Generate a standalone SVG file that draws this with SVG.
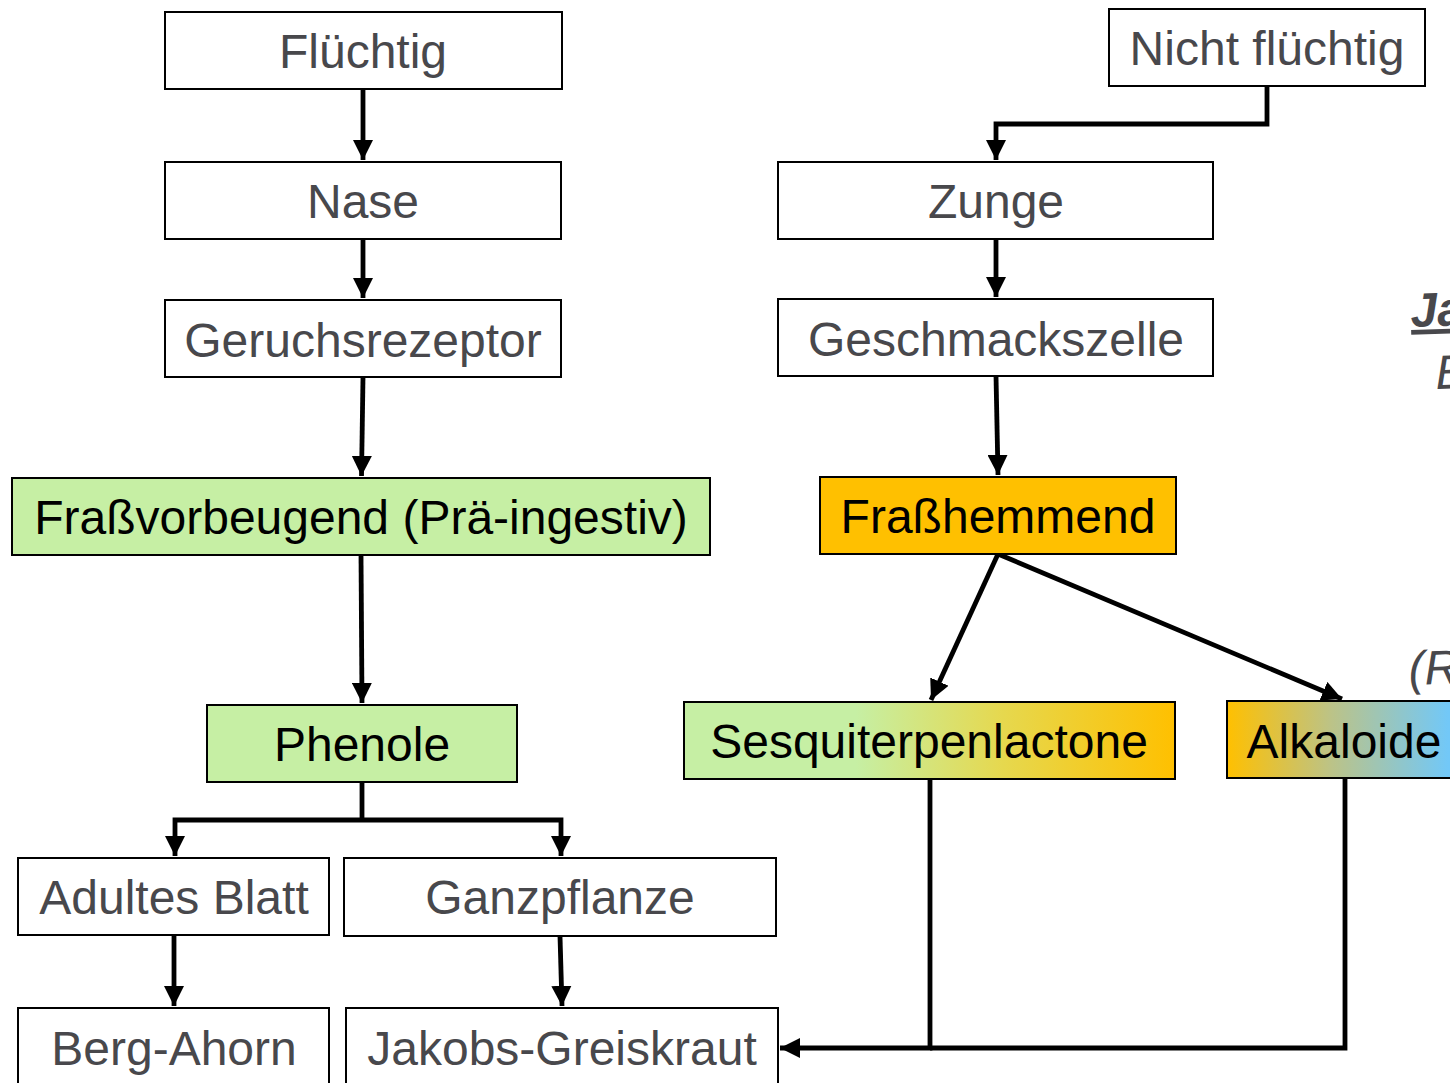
<svg xmlns="http://www.w3.org/2000/svg" width="1450" height="1083" viewBox="0 0 1450 1083">
<defs>
<linearGradient id="gSesq" x1="0" y1="0" x2="1" y2="0">
<stop offset="0" stop-color="#C6EFA4"/>
<stop offset="0.35" stop-color="#C6EFA4"/>
<stop offset="0.65" stop-color="#E6D84E"/>
<stop offset="1" stop-color="#FFC000"/>
</linearGradient>
<linearGradient id="gAlk" x1="0" y1="0" x2="1" y2="0">
<stop offset="0" stop-color="#FFC000"/>
<stop offset="0.4" stop-color="#BCC387"/>
<stop offset="0.85" stop-color="#72C8F8"/>
<stop offset="1" stop-color="#72C8F8"/>
</linearGradient>
<marker id="ah" viewBox="0 0 10 10" refX="10" refY="5" markerWidth="4.2" markerHeight="4.2" orient="auto" markerUnits="strokeWidth">
<path d="M0,0 L10,5 L0,10 Z" fill="#000"/>
</marker>
</defs>
<style>
rect{stroke:#000;stroke-width:2}
.w{fill:#fff}
.g{fill:#C6EFA4}
.o{fill:#FFC000}
text{font-family:"Liberation Sans",Arial,sans-serif;font-size:48px;text-anchor:middle}
.tw{fill:#48484c}
.tb{fill:#000}
.c{fill:none;stroke:#000;stroke-width:4.8}
.a{marker-end:url(#ah)}
.side{fill:#48484c;text-anchor:start;font-style:italic}
</style>
<rect x="0" y="0" width="1450" height="1083" fill="#fff" style="stroke:none"/>
<g id="connectors">
<path class="c a" d="M363,89 V160"/>
<path class="c a" d="M363,239 V298"/>
<path class="c a" d="M363,377 L361.5,476"/>
<path class="c a" d="M361,555 L362,703"/>
<path class="c" d="M362,782 V820"/>
<path class="c a" d="M362,820 H175 V856"/>
<path class="c a" d="M362,820 H561 V856"/>
<path class="c a" d="M174,935 V1006"/>
<path class="c a" d="M560,936 L562,1006"/>
<path class="c a" d="M1267,86 V124 H996 V160"/>
<path class="c a" d="M996,239 V297"/>
<path class="c a" d="M996,376 L998,475"/>
<path class="c a" d="M998,554 L931,700"/>
<path class="c a" d="M998,554 L1342,699"/>
<path class="c a" d="M930,779 V1048 H780"/>
<path class="c" d="M1345,779 V1048 H930"/>
</g>
<g id="n-fluechtig"><rect class="w" x="165" y="12" width="397" height="77"/><text class="tw" x="363" y="68">Flüchtig</text></g>
<g id="n-nase"><rect class="w" x="165" y="162" width="396" height="77"/><text class="tw" x="363" y="218">Nase</text></g>
<g id="n-geruch"><rect class="w" x="165" y="300" width="396" height="77"/><text class="tw" x="363" y="357">Geruchsrezeptor</text></g>
<g id="n-frassvor"><rect class="g" x="12" y="478" width="698" height="77"/><text class="tb" x="361" y="534">Fraßvorbeugend (Prä-ingestiv)</text></g>
<g id="n-phenole"><rect class="g" x="207" y="705" width="310" height="77"/><text class="tb" x="362" y="761">Phenole</text></g>
<g id="n-adult"><rect class="w" x="18" y="858" width="311" height="77"/><text class="tw" x="174" y="914">Adultes Blatt</text></g>
<g id="n-ganz"><rect class="w" x="344" y="858" width="432" height="78"/><text class="tw" x="560" y="914">Ganzpflanze</text></g>
<g id="n-berg"><rect class="w" x="18" y="1008" width="311" height="90"/><text class="tw" x="174" y="1065">Berg-Ahorn</text></g>
<g id="n-jakobs"><rect class="w" x="346" y="1008" width="432" height="90"/><text class="tw" x="562" y="1065">Jakobs-Greiskraut</text></g>
<g id="n-nicht"><rect class="w" x="1109" y="9" width="316" height="77"/><text class="tw" x="1267" y="65">Nicht flüchtig</text></g>
<g id="n-zunge"><rect class="w" x="778" y="162" width="435" height="77"/><text class="tw" x="996" y="218">Zunge</text></g>
<g id="n-geschmack"><rect class="w" x="778" y="299" width="435" height="77"/><text class="tw" x="996" y="356">Geschmackszelle</text></g>
<g id="n-frasshemm"><rect class="o" x="820" y="477" width="356" height="77"/><text class="tb" x="998" y="533">Fraßhemmend</text></g>
<g id="n-sesq"><rect fill="url(#gSesq)" x="684" y="702" width="491" height="77"/><text class="tb" x="929" y="758">Sesquiterpenlactone</text></g>
<g id="n-alk"><rect fill="url(#gAlk)" x="1227" y="701" width="260" height="77"/><text class="tb" x="1344" y="758">Alkaloide</text></g>
<g id="side-text">
<text class="side" x="1411" y="327" font-weight="bold" text-decoration="underline" transform="rotate(-2 1411 327)">Ja</text>
<text class="side" x="1436" y="389" transform="rotate(-2 1436 389)">E</text>
<text class="side" x="1409" y="685" transform="rotate(-2 1409 685)">(R</text>
</g>
</svg>
